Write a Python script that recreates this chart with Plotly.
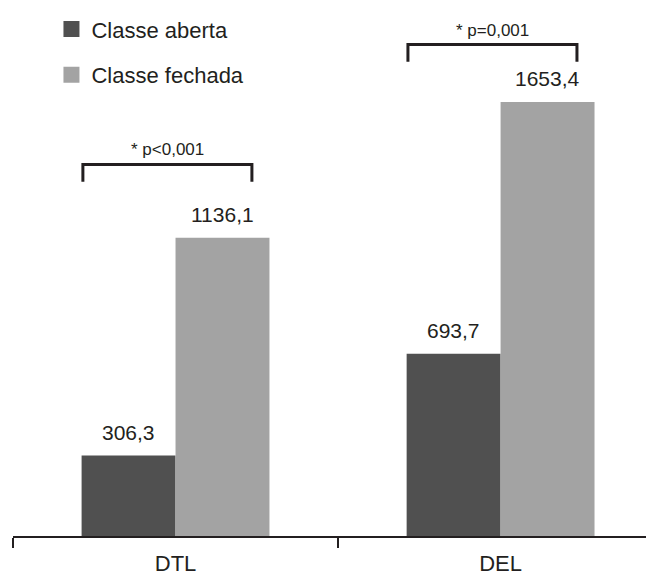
import plotly.graph_objects as go

categories = ["DTL", "DEL"]
series_names = ["Classe aberta", "Classe fechada"]
aberta = [306.3, 693.7]
fechada = [1136.1, 1653.4]
p_labels = ["* p<0,001", "* p=0,001"]
bracket_levels = [1415, 1872]

colors = ["#505050", "#a3a3a3"]
FONT = "Liberation Sans, Arial, sans-serif"
TXT = "#231f20"

def fmt(v):
    return f"{v:.1f}".replace(".", ",")

fig = go.Figure()
for name, vals, col in zip(series_names, [aberta, fechada], colors):
    fig.add_trace(go.Bar(x=categories, y=vals, name=name, marker_color=col,
                         marker_line_width=0, showlegend=False))
    # legend entry with a larger square symbol
    fig.add_trace(go.Scatter(x=[None], y=[None], mode="markers", name=name,
                             marker=dict(symbol="square", size=16, color=col),
                             legendgroup=name, showlegend=True))

# value labels
for vals, shift in zip([aberta, fechada], [-47, 47]):
    for c, v in zip(categories, vals):
        fig.add_annotation(x=c, y=v, text=fmt(v), showarrow=False, xshift=shift,
                           yshift=23, yanchor="middle",
                           font=dict(size=21, color=TXT, family=FONT))

# significance brackets
for i, (c, lvl, p) in enumerate(zip(categories, bracket_levels, p_labels)):
    x0, x1 = i - 0.285, i + 0.235
    drop = 66
    fig.add_shape(type="path",
                  path=f"M {x0},{lvl-drop} L {x0},{lvl} L {x1},{lvl} L {x1},{lvl-drop}",
                  xref="x", yref="y", line=dict(color=TXT, width=3))
    fig.add_annotation(x=(x0 + x1) / 2, y=lvl, text=p, showarrow=False,
                       yshift=3, yanchor="bottom",
                       font=dict(size=17, color=TXT, family=FONT))

fig.update_layout(
    width=646, height=569,
    margin=dict(l=5, r=0, t=0, b=41),
    paper_bgcolor="white", plot_bgcolor="white",
    barmode="group", bargap=0.422, bargroupgap=0,
    font=dict(family=FONT, color=TXT, size=20),
    showlegend=True,
    legend=dict(x=0.06, y=1.009, xanchor="left", yanchor="top",
                font=dict(size=22, color=TXT, family=FONT),
                tracegroupgap=14, traceorder="grouped",
                bgcolor="rgba(0,0,0,0)"),
    xaxis=dict(type="category", range=[-0.5, 1.472], showline=True,
               linecolor=TXT, linewidth=2, ticks="outside", ticklen=10,
               tickwidth=2, tickcolor=TXT, tickson="boundaries",
               ticklabelstandoff=7,
               showgrid=False, zeroline=False,
               tickfont=dict(size=22, color=TXT, family=FONT)),
    yaxis=dict(range=[0, 1992], visible=False, showgrid=False, zeroline=False),
)

fig.write_html("out.html")
